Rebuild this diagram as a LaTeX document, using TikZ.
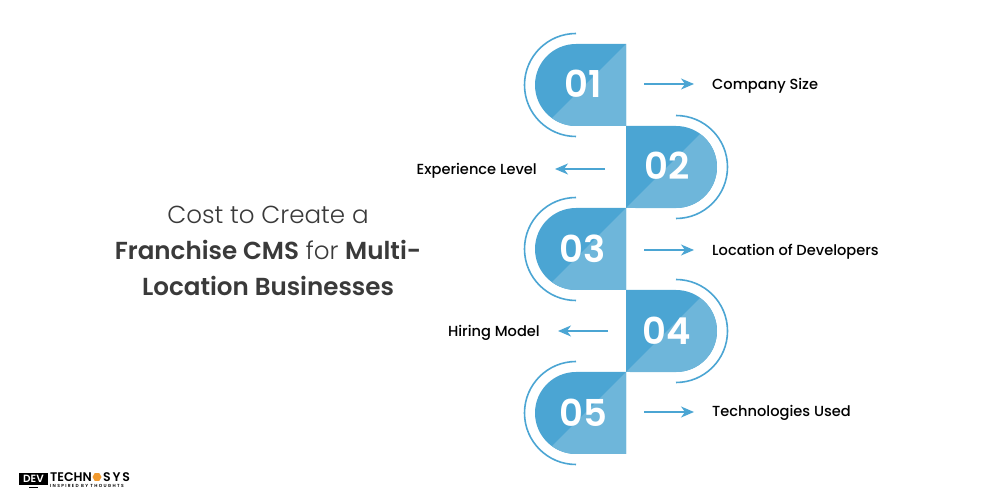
\documentclass[tikz,border=0pt]{standalone}
\usepackage{fontspec}
\setmainfont{Poppins Light}[BoldFont=Poppins SemiBold]
\newfontfamily\labelfont{Poppins Medium}
\newfontfamily\numfont{Poppins SemiBold}
\newfontfamily\logofont{Poppins SemiBold}
\newfontfamily\syslogofont{Poppins SemiBold}[LetterSpace=14]
\newfontfamily\tagfont{Poppins SemiBold}[LetterSpace=30]
\usetikzlibrary{arrows.meta,shapes.geometric}
\definecolor{tabdark}{HTML}{4BA5D3}
\definecolor{tablight}{HTML}{6EB6DA}
\definecolor{titlegrey}{HTML}{3A3A3A}
\definecolor{logoorange}{HTML}{F29A2E}
\tikzset{
  tabfill/.style={fill=tabdark,draw=none},
  tabshade/.style={fill=tablight,draw=none},
  tabarc/.style={draw=tabdark,line width=1.6pt},
  tabnum/.style={text=white,font=\fontsize{37}{37}\numfont,inner sep=0pt},
  itemlabel/.style={text=black,font=\fontsize{14.6}{16}\labelfont,inner sep=0pt},
  flow/.style={draw=tabdark,line width=1.3pt,-{Stealth[length=13pt,width=11pt,inset=4pt]}},
  logotext/.style={text=black,font=\fontsize{12.5}{13}\logofont,inner sep=0pt,anchor=west}
}
\begin{document}
\begin{tikzpicture}[x=1pt,y=1pt]
            \useasboundingbox (0,0) rectangle (1000,500);
            % tabs
            \path[tabfill] (626,456) -- (576,456) arc[start angle=90,end angle=270,radius=41] -- (626,374) -- cycle;
            \path[tabshade] (626,456) -- (551.9,381.9) arc[start angle=233.9,end angle=270,radius=41] -- (626,374) -- cycle;
            \draw[tabarc] (576,466.5) arc[start angle=90,end angle=270,radius=51.5];

            \path[tabfill] (626,374) -- (676,374) arc[start angle=90,end angle=-90,radius=41] -- (626,292) -- cycle;
            \path[tabshade] (626,292) -- (700.1,366.1) arc[start angle=53.9,end angle=-90,radius=41] -- cycle;
            \draw[tabarc] (676,384.5) arc[start angle=90,end angle=-90,radius=51.5];

            \path[tabfill] (626,292) -- (576,292) arc[start angle=90,end angle=270,radius=41] -- (626,210) -- cycle;
            \path[tabshade] (626,292) -- (551.9,217.9) arc[start angle=233.9,end angle=270,radius=41] -- (626,210) -- cycle;
            \draw[tabarc] (576,302.5) arc[start angle=90,end angle=270,radius=51.5];

            \path[tabfill] (626,210) -- (676,210) arc[start angle=90,end angle=-90,radius=41] -- (626,128) -- cycle;
            \path[tabshade] (626,128) -- (700.1,202.1) arc[start angle=53.9,end angle=-90,radius=41] -- cycle;
            \draw[tabarc] (676,220.5) arc[start angle=90,end angle=-90,radius=51.5];

            \path[tabfill] (626,128) -- (576,128) arc[start angle=90,end angle=270,radius=41] -- (626,46) -- cycle;
            \path[tabshade] (626,128) -- (551.9,53.9) arc[start angle=233.9,end angle=270,radius=41] -- (626,46) -- cycle;
            \draw[tabarc] (576,138.5) arc[start angle=90,end angle=270,radius=51.5];

            % numbers
            \node[tabnum] (n1) at (583,416) {01};
            \node[tabnum] (n2) at (667,334) {02};
            \node[tabnum] (n3) at (583,251) {03};
            \node[tabnum] (n4) at (667,169) {04};
            \node[tabnum] (n5) at (583,87) {05};

            % labels
            \node[itemlabel,anchor=west] (l1) at (712,414) {Company Size};
            \node[itemlabel,anchor=east] (l2) at (537,329) {Experience Level};
            \node[itemlabel,anchor=west] (l3) at (712,248) {Location of Developers};
            \node[itemlabel,anchor=east] (l4) at (540,167) {Hiring Model};
            \node[itemlabel,anchor=west] (l5) at (712,87) {Technologies Used};

            % arrows
            \coordinate (a1) at (644,416);
            \coordinate (a2) at (605,331);
            \coordinate (a3) at (644,250);
            \coordinate (a4) at (608,169);
            \coordinate (a5) at (644,88);
            \draw[flow,shorten >=18pt] (a1) -- (l1.west |- a1);
            \draw[flow,shorten >=18pt] (a2) -- (l2.east |- a2);
            \draw[flow,shorten >=18pt] (a3) -- (l3.west |- a3);
            \draw[flow,shorten >=18pt] (a4) -- (l4.east |- a4);
            \draw[flow,shorten >=18pt] (a5) -- (l5.west |- a5);

            % title
            \node[text=titlegrey,align=center,font=\fontsize{24.6}{36}\selectfont,inner sep=0pt] (title) at (268,249)
              {Cost to Create a\\ \textbf{Franchise CMS} for \textbf{Multi-}\\ \textbf{Location Businesses}};

            % logo
            \node[fill=black,text=white,font=\fontsize{10.5}{11}\logofont,inner sep=0pt,minimum width=29pt,minimum height=12pt] (dev) at (33.5,21) {DEV};
            \node[fill=black,inner sep=0pt,minimum width=9pt,minimum height=1.5pt] (stand) at (33.5,12.5) {};
            \node[logotext] (techn) at (50,23) {TECHN};
            \node[fill=logoorange,shape=regular polygon,regular polygon sides=6,inner sep=0pt,minimum size=9pt] (hex) at (97,23) {};
            \node[logotext,font=\fontsize{12.5}{13}\syslogofont] (sys) at (103,23) {SYS};
            \node[text=black,font=\fontsize{4.4}{5}\tagfont,inner sep=0pt,anchor=west] (tag) at (50,14.5) {INSPIRED BY THOUGHTS};
        \end{tikzpicture}
\end{document}
